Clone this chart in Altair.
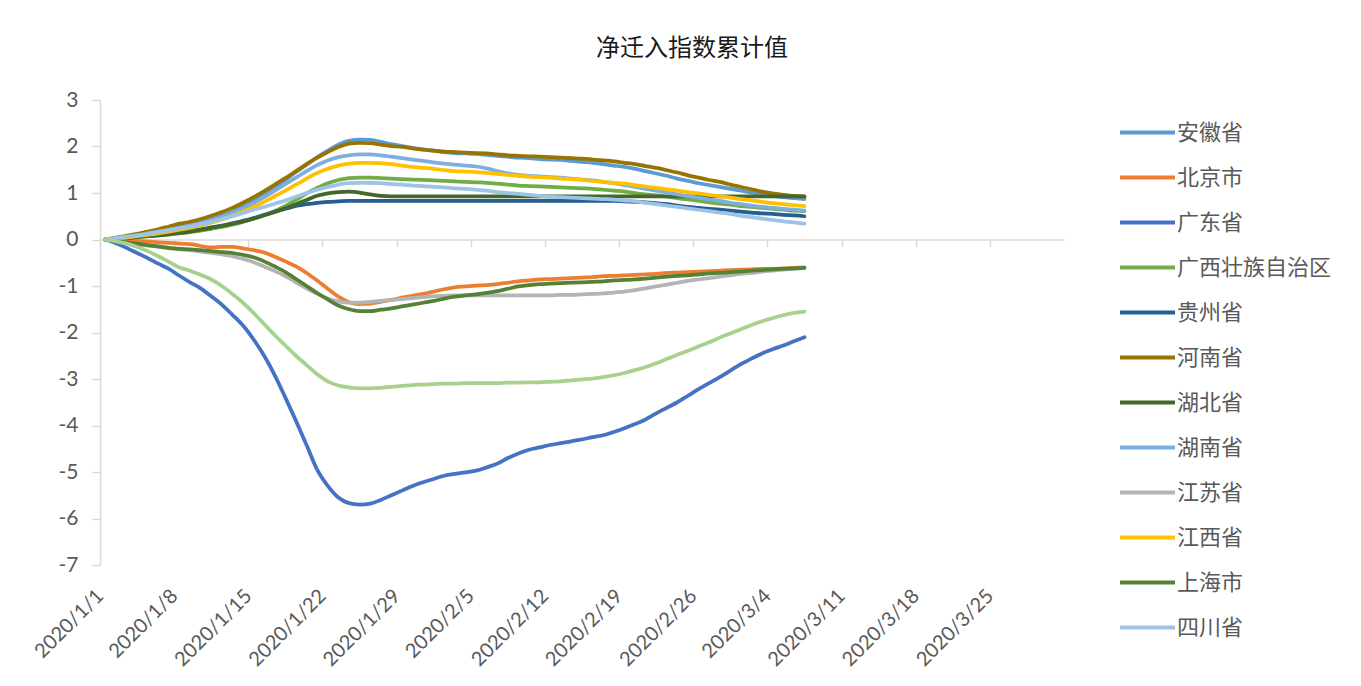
import altair as alt
import pandas as pd

provinces = ["安徽省", "北京市", "广东省", "广西壮族自治区", "贵州省", "河南省",
             "湖北省", "湖南省", "江苏省", "江西省", "上海市", "四川省", "浙江省"]
colors = ["#5B9BD5", "#ED7D31", "#4472C4", "#70AD47", "#255E91", "#997300",
          "#43682B", "#7CAFDD", "#B4B4B4", "#FFC000", "#548235", "#9DC3E6", "#A9D18E"]
tick_dates = ["2020-01-01", "2020-01-08", "2020-01-15", "2020-01-22", "2020-01-29",
              "2020-02-05", "2020-02-12", "2020-02-19", "2020-02-26", "2020-03-04",
              "2020-03-11", "2020-03-18", "2020-03-25"]
y_ticks = [-7, -6, -5, -4, -3, -2, -1, 0, 1, 2, 3]

anhui = [0, 0.03, 0.06, 0.10, 0.14, 0.18, 0.23, 0.27, 0.32, 0.37, 0.43, 0.51, 0.60, 0.71, 0.83, 0.97,
         1.12, 1.28, 1.45, 1.61, 1.77, 1.91, 2.04, 2.12, 2.15, 2.14, 2.10, 2.05, 2.01, 1.97, 1.94, 1.91,
         1.88, 1.86, 1.85, 1.84, 1.82, 1.80, 1.78, 1.76, 1.75, 1.73, 1.72, 1.71, 1.69, 1.67, 1.65, 1.62,
         1.59, 1.56, 1.52, 1.47, 1.42, 1.37, 1.31, 1.26, 1.21, 1.17, 1.13, 1.09, 1.05, 1.01, 0.97, 0.94,
         0.91, 0.89, 0.87]
beijing = [0, -0.01, -0.02, -0.03, -0.04, -0.06, -0.07, -0.09, -0.10, -0.14, -0.17, -0.16, -0.16, -0.19,
           -0.23, -0.28, -0.37, -0.47, -0.58, -0.72, -0.88, -1.06, -1.23, -1.35, -1.39, -1.38, -1.34, -1.30,
           -1.25, -1.21, -1.17, -1.12, -1.07, -1.03, -1.01, -0.99, -0.98, -0.96, -0.93, -0.90, -0.88, -0.86,
           -0.85, -0.84, -0.83, -0.82, -0.81, -0.79, -0.78, -0.77, -0.76, -0.75, -0.74, -0.72, -0.71, -0.70,
           -0.69, -0.68, -0.67, -0.66, -0.65, -0.64, -0.63, -0.63, -0.62, -0.61, -0.60]
guangdong = [0, -0.08, -0.18, -0.29, -0.40, -0.52, -0.63, -0.78, -0.92, -1.05, -1.22, -1.40, -1.62, -1.85,
             -2.15, -2.50, -2.92, -3.40, -3.90, -4.42, -4.95, -5.30, -5.55, -5.67, -5.70, -5.68, -5.60, -5.50,
             -5.40, -5.30, -5.22, -5.15, -5.08, -5.04, -5.01, -4.97, -4.90, -4.82, -4.70, -4.60, -4.52, -4.47,
             -4.42, -4.38, -4.34, -4.30, -4.25, -4.21, -4.14, -4.06, -3.97, -3.87, -3.74, -3.62, -3.50, -3.36,
             -3.22, -3.09, -2.96, -2.82, -2.68, -2.56, -2.45, -2.36, -2.28, -2.19, -2.10]
guangxi = [0, 0.01, 0.03, 0.05, 0.07, 0.09, 0.11, 0.13, 0.16, 0.19, 0.23, 0.27, 0.32, 0.38, 0.45, 0.52,
           0.61, 0.72, 0.85, 0.99, 1.11, 1.21, 1.28, 1.32, 1.33, 1.33, 1.32, 1.31, 1.30, 1.29, 1.28, 1.27,
           1.26, 1.25, 1.24, 1.23, 1.22, 1.20, 1.18, 1.16, 1.15, 1.14, 1.13, 1.12, 1.11, 1.10, 1.09, 1.07,
           1.05, 1.03, 1.00, 0.97, 0.95, 0.92, 0.89, 0.86, 0.83, 0.80, 0.77, 0.75, 0.72, 0.70, 0.68, 0.66,
           0.64, 0.62, 0.61]
guizhou = [0, 0.02, 0.04, 0.06, 0.08, 0.10, 0.13, 0.16, 0.19, 0.22, 0.26, 0.30, 0.35, 0.40, 0.46, 0.53,
           0.60, 0.66, 0.72, 0.76, 0.79, 0.81, 0.82, 0.83, 0.83, 0.83, 0.83, 0.83, 0.83, 0.83, 0.83, 0.83,
           0.83, 0.83, 0.83, 0.83, 0.83, 0.83, 0.83, 0.83, 0.83, 0.83, 0.83, 0.83, 0.83, 0.83, 0.83, 0.83,
           0.83, 0.82, 0.81, 0.80, 0.78, 0.76, 0.73, 0.70, 0.68, 0.66, 0.64, 0.62, 0.60, 0.58, 0.56, 0.55,
           0.53, 0.52, 0.50]
henan = [0, 0.04, 0.08, 0.12, 0.17, 0.22, 0.28, 0.34, 0.38, 0.44, 0.51, 0.59, 0.68, 0.79, 0.91, 1.04,
         1.18, 1.32, 1.47, 1.62, 1.76, 1.88, 1.99, 2.06, 2.08, 2.07, 2.04, 2.01, 1.99, 1.96, 1.93, 1.91,
         1.89, 1.88, 1.87, 1.86, 1.85, 1.83, 1.81, 1.80, 1.79, 1.78, 1.77, 1.76, 1.75, 1.74, 1.72, 1.70,
         1.68, 1.65, 1.62, 1.58, 1.54, 1.49, 1.44, 1.38, 1.33, 1.28, 1.24, 1.18, 1.13, 1.08, 1.03, 0.99,
         0.96, 0.94, 0.92]
hubei = [0, 0.01, 0.03, 0.05, 0.07, 0.09, 0.11, 0.14, 0.17, 0.21, 0.25, 0.29, 0.34, 0.39, 0.45, 0.52,
         0.59, 0.67, 0.76, 0.85, 0.94, 0.99, 1.02, 1.03, 1.01, 0.97, 0.94, 0.93, 0.93, 0.93, 0.93, 0.93,
         0.93, 0.93, 0.93, 0.93, 0.93, 0.93, 0.93, 0.93, 0.93, 0.93, 0.93, 0.93, 0.93, 0.93, 0.93, 0.93,
         0.93, 0.93, 0.93, 0.93, 0.93, 0.93, 0.93, 0.93, 0.93, 0.93, 0.93, 0.93, 0.93, 0.93, 0.93, 0.93,
         0.93, 0.93, 0.93]
hunan = [0, 0.03, 0.06, 0.09, 0.13, 0.17, 0.21, 0.25, 0.30, 0.35, 0.41, 0.48, 0.57, 0.67, 0.78, 0.91,
         1.05, 1.19, 1.33, 1.47, 1.60, 1.70, 1.77, 1.81, 1.83, 1.83, 1.81, 1.78, 1.75, 1.72, 1.69, 1.66,
         1.63, 1.61, 1.59, 1.57, 1.53, 1.47, 1.42, 1.39, 1.37, 1.36, 1.34, 1.33, 1.31, 1.29, 1.27, 1.24,
         1.21, 1.17, 1.13, 1.09, 1.05, 1.01, 0.97, 0.93, 0.90, 0.86, 0.83, 0.79, 0.76, 0.73, 0.70, 0.68,
         0.66, 0.64, 0.62]
jiangsu = [0, -0.03, -0.07, -0.10, -0.13, -0.16, -0.19, -0.21, -0.23, -0.26, -0.29, -0.32, -0.36, -0.42,
           -0.49, -0.58, -0.68, -0.79, -0.92, -1.05, -1.17, -1.27, -1.33, -1.36, -1.36, -1.34, -1.32, -1.30,
           -1.28, -1.26, -1.24, -1.22, -1.21, -1.20, -1.20, -1.20, -1.20, -1.20, -1.20, -1.20, -1.20, -1.20,
           -1.20, -1.19, -1.19, -1.18, -1.17, -1.16, -1.14, -1.12, -1.09, -1.05, -1.01, -0.97, -0.93, -0.89,
           -0.86, -0.83, -0.80, -0.77, -0.74, -0.72, -0.69, -0.67, -0.65, -0.63, -0.61]
jiangxi = [0, 0.02, 0.04, 0.07, 0.10, 0.13, 0.17, 0.21, 0.25, 0.30, 0.36, 0.43, 0.51, 0.60, 0.70, 0.81,
           0.93, 1.05, 1.18, 1.31, 1.43, 1.52, 1.59, 1.63, 1.65, 1.65, 1.64, 1.62, 1.59, 1.56, 1.54, 1.52,
           1.49, 1.47, 1.46, 1.45, 1.43, 1.41, 1.39, 1.37, 1.35, 1.34, 1.33, 1.31, 1.30, 1.28, 1.26, 1.24,
           1.22, 1.20, 1.17, 1.14, 1.11, 1.08, 1.05, 1.02, 0.99, 0.96, 0.93, 0.90, 0.87, 0.84, 0.81, 0.78,
           0.76, 0.74, 0.72]
shanghai = [0, -0.03, -0.06, -0.09, -0.12, -0.15, -0.18, -0.20, -0.21, -0.23, -0.25, -0.27, -0.29, -0.33,
            -0.38, -0.47, -0.58, -0.70, -0.85, -1.00, -1.15, -1.29, -1.42, -1.50, -1.54, -1.54, -1.51, -1.48,
            -1.44, -1.40, -1.36, -1.32, -1.27, -1.23, -1.20, -1.18, -1.15, -1.11, -1.06, -1.01, -0.98, -0.96,
            -0.95, -0.94, -0.93, -0.92, -0.91, -0.90, -0.88, -0.87, -0.86, -0.84, -0.82, -0.80, -0.78, -0.77,
            -0.75, -0.73, -0.72, -0.70, -0.69, -0.67, -0.66, -0.64, -0.63, -0.62, -0.61]
sichuan = [0, 0.03, 0.06, 0.09, 0.12, 0.16, 0.20, 0.24, 0.28, 0.33, 0.38, 0.44, 0.50, 0.57, 0.64, 0.70,
           0.77, 0.84, 0.92, 1.00, 1.07, 1.13, 1.18, 1.21, 1.22, 1.22, 1.21, 1.19, 1.18, 1.16, 1.15, 1.13,
           1.12, 1.10, 1.09, 1.07, 1.05, 1.02, 1.00, 0.98, 0.96, 0.94, 0.92, 0.91, 0.90, 0.89, 0.88, 0.87,
           0.86, 0.84, 0.82, 0.79, 0.76, 0.73, 0.70, 0.67, 0.64, 0.61, 0.58, 0.55, 0.51, 0.48, 0.45, 0.42,
           0.39, 0.37, 0.34]
zhejiang = [0, -0.04, -0.09, -0.16, -0.25, -0.36, -0.48, -0.60, -0.67, -0.76, -0.86, -1.00, -1.17, -1.36,
            -1.58, -1.82, -2.06, -2.28, -2.50, -2.70, -2.90, -3.05, -3.14, -3.18, -3.20, -3.20, -3.19, -3.17,
            -3.15, -3.13, -3.12, -3.11, -3.10, -3.10, -3.09, -3.09, -3.09, -3.09, -3.08, -3.08, -3.07, -3.07,
            -3.06, -3.05, -3.03, -3.01, -2.99, -2.96, -2.92, -2.87, -2.81, -2.74, -2.66, -2.57, -2.48, -2.39,
            -2.30, -2.21, -2.11, -2.02, -1.93, -1.84, -1.76, -1.69, -1.63, -1.58, -1.55]

series = [anhui, beijing, guangdong, guangxi, guizhou, henan, hubei, hunan,
          jiangsu, jiangxi, shanghai, sichuan, zhejiang]

dates = pd.date_range("2020-01-01", periods=len(anhui), freq="D")
rows = []
for order, (name, vals) in enumerate(zip(provinces, series)):
    for d, v in zip(dates, vals):
        # Excel places each daily point in the middle of its day slot
        rows.append({"date": (d + pd.Timedelta(hours=12)).strftime("%Y-%m-%dT%H:%M:%S"),
                     "province": name, "value": v, "order": order})
df = pd.DataFrame(rows)

def dt(s):
    y, m, d = [int(p) for p in s.split("-")]
    return alt.DateTime(year=y, month=m, date=d)

H = 465
W = 964

x_axis = alt.Axis(values=[dt(s) for s in tick_dates], format="%Y/%-m/%-d",
                  labelAngle=-45, labelAlign="right", labelBaseline="middle",
                  labelFont="Lato", labelFontSize=20, labelColor="#595959",
                  labelPadding=346, labelOverlap=False, labelFlush=False, labelBound=False,
                  domainColor="#D9D9D9", domainWidth=1.5, tickColor="#D9D9D9",
                  tickSize=7, tickWidth=1.5, grid=False, title=None,
                  offset=-H * 0.7)
y_axis = alt.Axis(values=y_ticks, labelFont="Lato", labelFontSize=21, labelColor="#595959",
                  labelExpr="replace(datum.label, '\u2212', '-')",
                  labelPadding=14, domainColor="#D9D9D9", domainWidth=1.5,
                  tickColor="#D9D9D9", tickSize=8, tickWidth=1.5, grid=False, title=None)

legend = alt.Legend(values=provinces[:12], orient="none", legendX=1018, legendY=3,
                    symbolType="stroke", symbolSize=3025, symbolStrokeWidth=4,
                    labelFont="Noto Sans CJK SC", labelFontSize=22, labelColor="#595959",
                    labelOffset=0, rowPadding=4, padding=0, title=None, labelLimit=300)

chart = alt.Chart(df).mark_line(strokeWidth=3.75, strokeCap="round", strokeJoin="round",
                                interpolate="monotone").encode(
    x=alt.X("date:T", axis=x_axis,
            scale=alt.Scale(domain=[dt("2020-01-01"), dt("2020-04-01")])),
    y=alt.Y("value:Q", axis=y_axis, scale=alt.Scale(domain=[-7, 3], nice=False, zero=False)),
    color=alt.Color("province:N", sort=provinces,
                    scale=alt.Scale(domain=provinces, range=colors), legend=legend),
    order="order:Q",
).properties(
    width=W, height=H,
    autosize=alt.AutoSizeParams(type="none"),
    padding={"left": 92, "top": 92, "right": 280, "bottom": 110},
    background="white",
    title=alt.TitleParams("净迁入指数累计值", font="Noto Sans CJK SC", fontSize=24,
                          fontWeight="normal", color="#1A1A1A", anchor="middle",
                          dx=110, offset=28),
).configure_view(stroke=None)

chart.save("out.html", embed_options={"renderer": "svg", "actions": False})
